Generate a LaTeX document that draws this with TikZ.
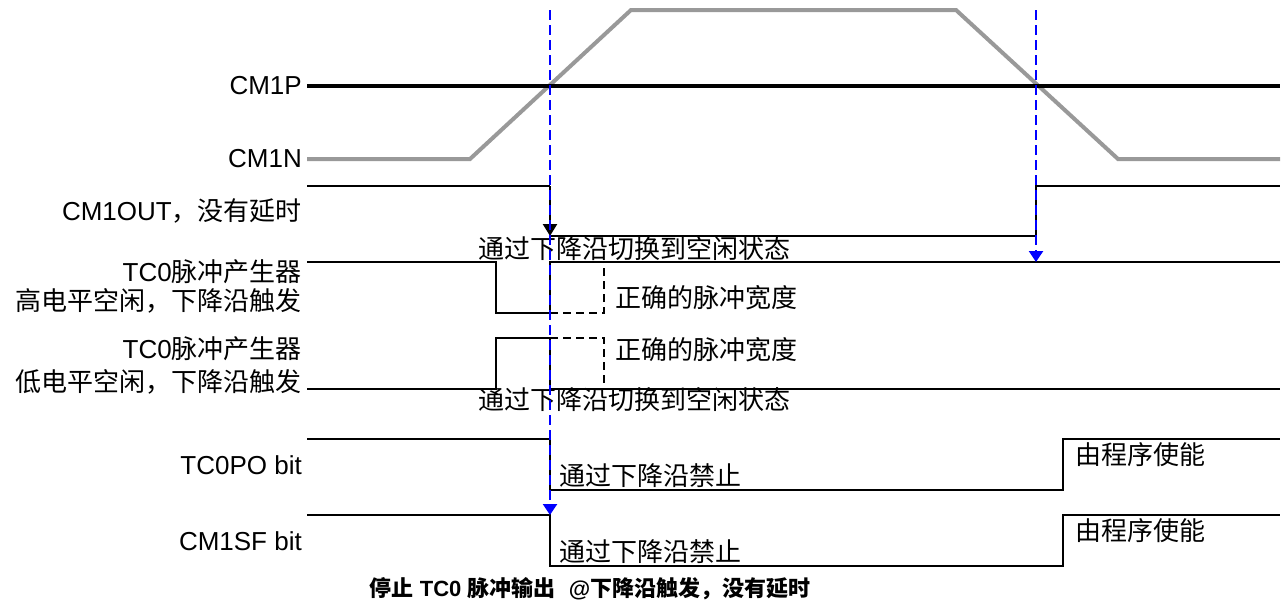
\documentclass[tikz,border=0pt]{standalone}
\usepackage{fontspec}
\setmainfont{Liberation Sans}
\newfontfamily\cjk{Noto Sans CJK SC}
\usetikzlibrary{arrows.meta}
\tikzset{
    signal/.style={line width=2.4pt, black},
    ref line/.style={line width=4pt, black},
    ramp line/.style={line width=4pt, black!40},
    ideal/.style={line width=2.4pt, black, dash pattern=on 8pt off 5pt},
    trigger/.style={line width=2.4pt, blue, dash pattern=on 10pt off 5pt, -{Triangle[width=14pt, length=11pt]}},
    name label/.style={anchor=base east, inner sep=0pt, font=\fontsize{26}{29}\selectfont},
    note label/.style={anchor=base west, inner sep=0pt, font=\fontsize{26}{29}\selectfont\cjk},
    caption/.style={anchor=base, inner sep=0pt, font=\fontsize{22}{26}\selectfont\bfseries},
}

\begin{document}
\begin{tikzpicture}[x=1pt, y=-1pt]
    \useasboundingbox (0,0) rectangle (1283,605);
    % comparator inputs
    \draw[ramp line] (307,159) -- (470,159) -- (631,10) -- (956,10) -- (1118,159) -- (1280,159);
    \draw[ref line] (307,86) -- (1280,86);
    \node[name label] (cmp) at (302,94) {CM1P};
    \node[name label] (cmn) at (302,167) {CM1N};
    % comparator output
    \coordinate (out fall) at (550,186);
    \coordinate (out low) at (550,236);
    \draw[signal] (307,186) -- (out fall);
    \draw[signal] (out low) -- (1036,236) -- (1036,186) -- (1280,186);
    \draw[signal, -{Triangle[width=14pt, length=12pt]}] (out fall) -- (out low);
    \node[name label] (out) at (302,220) {CM1OUT{\cjk ，没有延时}};
    \node[note label] (idle hi) at (478,258) {通过下降沿切换到空闲状态};
    % pulse generator, high idle
    \draw[signal] (307,262) -- (496,262) -- (496,313) -- (550,313) -- (550,262) -- (1280,262);
    \draw[ideal] (550,313) -- (604,313) -- (604,262);
    \node[name label] (gen hi) at (302,281) {TC0{\cjk 脉冲产生器}};
    \node[name label] (mode hi) at (302,310) {\cjk 高电平空闲，下降沿触发};
    \node[note label] (width hi) at (615,307) {正确的脉冲宽度};
    % pulse generator, low idle
    \draw[signal] (307,389) -- (496,389) -- (496,338) -- (550,338) -- (550,389) -- (1280,389);
    \draw[ideal] (550,338) -- (604,338) -- (604,389);
    \node[name label] (gen lo) at (302,358) {TC0{\cjk 脉冲产生器}};
    \node[name label] (mode lo) at (302,391) {\cjk 低电平空闲，下降沿触发};
    \node[note label] (width lo) at (615,359) {正确的脉冲宽度};
    \node[note label] (idle lo) at (478,409) {通过下降沿切换到空闲状态};
    % enable bits
    \foreach \bit/\name/\y in {po/TC0PO/439, sf/CM1SF/515} {
        \draw[signal] (307,\y) -- (550,\y) -- (550,\y+51) -- (1063,\y+51) -- (1063,\y) -- (1280,\y);
        \node[name label] (\bit) at (302,\y+35) {\name{} bit};
        \node[note label] (\bit off) at (559,\y+46) {通过下降沿禁止};
        \node[note label] (\bit on) at (1075,\y+25) {由程序使能};
    }
    % trigger markers
    \coordinate (trig fall top) at (550,10);
    \coordinate (trig fall end) at (550,515);
    \coordinate (trig rise top) at (1036,10);
    \coordinate (trig rise end) at (1036,262);
    \draw[trigger] (trig fall top) -- (trig fall end);
    \draw[trigger] (trig rise top) -- (trig rise end);
    \node[caption] (title) at (590,596) {{\cjk 停止} TC0 {\cjk 脉冲输出}\hspace{0.6em}@{\cjk 下降沿触发，没有延时}};
\end{tikzpicture}
\end{document}
